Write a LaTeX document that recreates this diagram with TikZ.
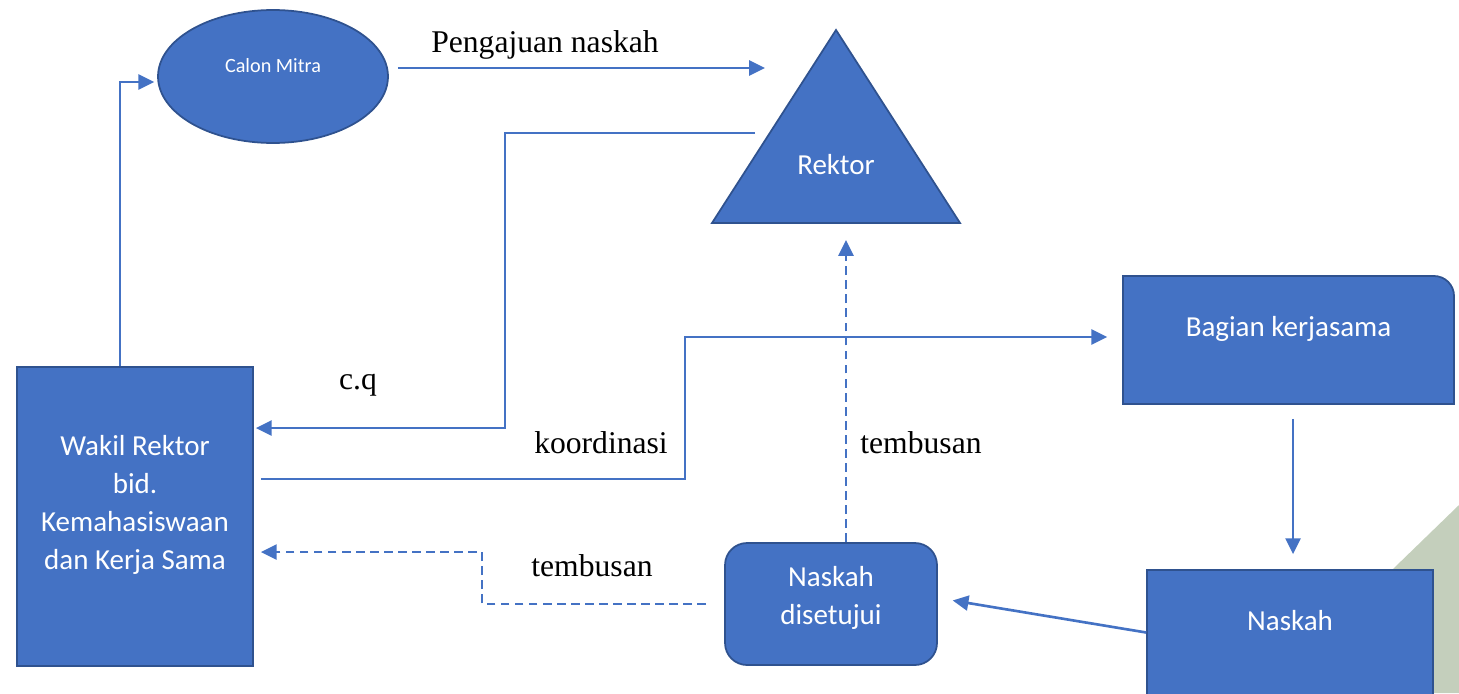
\documentclass[tikz,border=0pt]{standalone}
\usepackage{fontspec}
\setmainfont{Liberation Serif}
\newfontfamily\boxfont{Carlito}
\usetikzlibrary{arrows.meta}
\usetikzlibrary{shapes.geometric}
\definecolor{boxblue}{HTML}{4472C4}
\definecolor{boxedge}{HTML}{2F528F}
\definecolor{leaf}{RGB}{196,207,188}
\tikzset{
every node/.style={inner sep=2pt},
box/.style={rectangle, fill=boxblue, draw=boxedge, line width=1pt, text=white, align=center,
  font=\boxfont\fontsize{16.5}{21.5}\selectfont},
flow/.style={draw=boxblue, line width=1.5pt, -{Triangle[length=9pt,width=8.5pt]}},
copyline/.style={flow, dash pattern=on 5pt off 3pt},
tag/.style={font=\fontsize{18}{22}\selectfont}
}

\begin{document}
\begin{tikzpicture}[x=0.02cm, y=-0.02cm]
\useasboundingbox (0,0) rectangle (1459,693);
\fill [leaf] (1459,505) -- (1459,693) -- (1265,693) -- cycle;

% offices
\node [box, ellipse, minimum width=4.6cm, minimum height=2.66cm, text depth=0.43cm,
  font=\boxfont\fontsize{11.5}{14}\selectfont] (mitra) at (273,76.5) {Calon Mitra};

\coordinate (rtop) at (836,30);
\coordinate (rleft) at (712,223);
\coordinate (rright) at (960,223);
\draw [fill=boxblue, draw=boxedge, line width=1pt] (rtop) -- (rright) -- (rleft) -- cycle;
\node [box, fill=none, draw=none] (rektor) at (836,165) {Rektor};

\draw [fill=boxblue, draw=boxedge, line width=1pt] (1123,404) -- (1123,276) -- (1434,276)
  arc[start angle=90, end angle=0, radius=0.4cm] -- (1454,404) -- cycle;
\node [box, fill=none, draw=none, minimum width=6.62cm, minimum height=2.56cm, text depth=0.54cm] (bagian) at (1288.5,340) {Bagian kerjasama};

\node [box, minimum width=5.72cm, minimum height=2.5cm, text depth=0.5cm] (naskah) at (1290,632.5) {Naskah};
\node [box, rounded corners=0.44cm, minimum width=4.24cm, minimum height=2.44cm, text depth=0.34cm] (setuju) at (831,604) {Naskah\\disetujui};
\node [box, minimum width=4.72cm, minimum height=5.98cm, text depth=0.56cm] (wakil) at (135,516.5) {Wakil Rektor\\bid.\\Kemahasiswaan\\dan Kerja Sama};

% free ends at the triangle
\coordinate (toRektor) at (765,68);
\coordinate (fromRektor) at (755,133);

% connectors
\draw [flow, shorten >=0.06cm] ([xshift=-0.3cm]wakil.north) |- ([yshift=-0.11cm]mitra.west);
\draw [flow, shorten <=0.18cm] (mitra.east |- 0,68) -- (toRektor);
\draw [flow, shorten >=0.04cm] (fromRektor) -| (505,428) -- (wakil.east |- 0,428);
\draw [flow, shorten <=0.14cm, shorten >=0.3cm] (wakil.east |- 0,479) -| (685,337) -- (bagian.west |- 0,337);
\draw [flow, shorten <=0.28cm, shorten >=0.3cm] (bagian.south -| 1293,0) -- (naskah.north -| 1293,0);
\draw [flow, shorten >=0.3cm] (naskah.west) -- ([yshift=0.12cm]setuju.east);
\draw [copyline, shorten >=0.34cm] ([xshift=0.3cm]setuju.north) -- ([xshift=0.3cm]setuju.north |- rleft);
\draw [copyline, shorten <=0.36cm, shorten >=0.14cm] (setuju.west) -| (482,552) -- (wakil.east |- 0,552);

% labels
\node [tag] (pengajuan) at (545,45) {Pengajuan naskah};
\node [tag] (cq) at (358,385) {c.q};
\node [tag] (koordinasi) at (601,443) {koordinasi};
\node [tag] (tembusanA) at (921,443) {tembusan};
\node [tag] (tembusanB) at (592,566) {tembusan};
\end{tikzpicture}
\end{document}
